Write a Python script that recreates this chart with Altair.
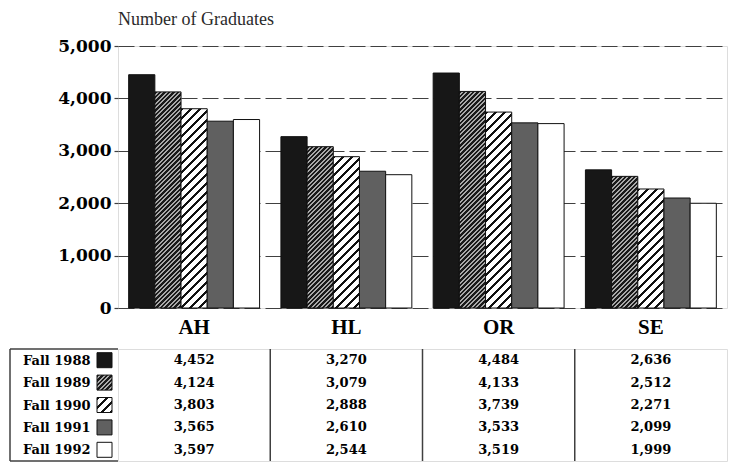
import altair as alt

# ---------------- data ----------------
categories = ["AH", "HL", "OR", "SE"]
series = ["Fall 1988", "Fall 1989", "Fall 1990", "Fall 1991", "Fall 1992"]
fall_1988 = [4452, 3270, 4484, 2636]
fall_1989 = [4124, 3079, 4133, 2512]
fall_1990 = [3803, 2888, 3739, 2271]
fall_1991 = [3565, 2610, 3533, 2099]
fall_1992 = [3597, 2544, 3519, 1999]
series_values = [fall_1988, fall_1989, fall_1990, fall_1991, fall_1992]
y_ticks = [0, 1000, 2000, 3000, 4000, 5000]
title_text = "Number of Graduates"

# ---------------- layout / style ----------------
PLOT_W = 609
PLOT_H = 262
Y_MAX = 5000
TABLE_H = 112
PAD_IN = 0.14
PAD_OUT = 0.07
LEFT_COL = 108
SWATCH = 15

# fill styles: solid colour, or diagonal hatch (dark, light, period px, dark fraction)
styles = {
    "Fall 1988": ("solid", "#171717"),
    "Fall 1989": ("hatch", "#1a1a1a", "#a9a9a9", 4.5, 0.55),
    "Fall 1990": ("hatch", "#111111", "#ffffff", 9.0, 0.33),
    "Fall 1991": ("solid", "#606060"),
    "Fall 1992": ("solid", "#ffffff"),
}


def hatch_gradient(w, h, period, frac, dark, light):
    """45-degree '/' stripes inside a w x h box via a bbox linear gradient."""
    denom = w * w + h * h
    dt = period * w / denom
    tmax = min(1.0, w * (w + h) / denom + dt)
    stops = []
    k = 0
    while True:
        t0 = k * dt
        if t0 > tmax:
            break
        t1 = min(1.0, t0 + frac * dt)
        t2 = min(1.0, (k + 1) * dt)
        stops += [
            {"offset": round(t0, 6), "color": dark},
            {"offset": round(t1, 6), "color": dark},
            {"offset": round(t1, 6), "color": light},
            {"offset": round(t2, 6), "color": light},
        ]
        k += 1
    return {"gradient": "linear", "x1": 0, "y1": 0, "x2": 1, "y2": h / w, "stops": stops}


def fill_for(s, w, h):
    st = styles[s]
    if st[0] == "solid":
        return st[1]
    return hatch_gradient(w, max(h, 1.0), st[3], st[4], st[1], st[2])


step = PLOT_W / (len(categories) - PAD_IN + 2 * PAD_OUT)
bar_w = step * (1 - PAD_IN) / len(series)

bar_records = []
table_records = []
for s, vals in zip(series, series_values):
    for c, v in zip(categories, vals):
        h = v / Y_MAX * PLOT_H
        bar_records.append({"category": c, "series": s, "value": v, "fill": fill_for(s, bar_w, h)})
        table_records.append({"category": c, "series": s, "value": v})
swatch_records = [{"series": s, "fill": fill_for(s, SWATCH, SWATCH)} for s in series]
separator_records = [{"category": c} for c in categories[1:]]

SERIF = "Liberation Serif"
SERIF_W = "DejaVu Serif"
LINE = "#404040"

# ---------------- bar chart ----------------
bars = alt.Chart(alt.Data(values=bar_records)).mark_bar(stroke="#111111", strokeWidth=1).encode(
    x=alt.X(
        "category:N",
        sort=categories,
        scale=alt.Scale(paddingInner=PAD_IN, paddingOuter=PAD_OUT),
        axis=alt.Axis(
            title=None, labelAngle=0, ticks=False, domain=False,
            labelFont=SERIF, labelFontSize=21, labelFontWeight="bold",
            labelColor="#000000", labelPadding=8,
        ),
    ),
    xOffset=alt.XOffset("series:N", sort=series, scale=alt.Scale(paddingInner=0, paddingOuter=0)),
    y=alt.Y(
        "value:Q",
        scale=alt.Scale(domain=[0, Y_MAX], nice=False),
        axis=alt.Axis(
            title=None, values=y_ticks, format=",d", domain=False,
            labelFont=SERIF_W, labelFontSize=17, labelFontWeight="bold",
            labelColor="#000000", labelPadding=3,
            tickSize=4, tickColor=LINE, tickWidth=1.2,
            grid=True, gridDash=[16, 5], gridColor=LINE, gridWidth=1.2,
        ),
    ),
    fill=alt.Fill("fill:N", scale=None),
).properties(
    width=PLOT_W,
    height=PLOT_H,
    title=alt.TitleParams(
        title_text, anchor="start", frame="group", font=SERIF, fontSize=18,
        fontWeight="normal", color="#2a2a2a", offset=8,
    ),
)

# ---------------- data table ----------------
y_t = alt.Y(
    "series:N",
    sort=series,
    scale=alt.Scale(paddingInner=0, paddingOuter=0.3),
    axis=alt.Axis(
        title=None, ticks=False, domain=False, grid=False,
        labelFont=SERIF_W, labelFontSize=13, labelFontWeight="bold",
        labelColor="#000000", labelPadding=28,
    ),
)
x_scale_t = alt.Scale(domain=categories, paddingInner=0, paddingOuter=0)
x_t = alt.X("category:N", sort=categories, scale=x_scale_t, axis=None)

cells = alt.Chart(alt.Data(values=table_records)).mark_text(
    font=SERIF_W, fontSize=13, fontWeight="bold", color="#000000"
).encode(x=x_t, y=y_t, text=alt.Text("value:Q", format=","))

separators = alt.Chart(alt.Data(values=separator_records)).mark_rule(
    color=LINE, strokeWidth=1.5
).encode(
    x=alt.X("category:N", sort=categories, scale=x_scale_t, axis=None, bandPosition=0),
    y=alt.value(0),
    y2=alt.value(TABLE_H),
)

swatches = alt.Chart(alt.Data(values=swatch_records)).mark_point(
    shape="square", size=SWATCH * SWATCH, filled=True, opacity=1,
    stroke="#111111", strokeWidth=1,
).encode(
    x=alt.value(-(SWATCH / 2 + 6)),
    y=y_t,
    fill=alt.Fill("fill:N", scale=None),
)

one = alt.Data(values=[{}])
rule_top = alt.Chart(one).mark_rule(color=LINE, strokeWidth=1.5).encode(
    x=alt.value(-LEFT_COL), x2=alt.value(0), y=alt.value(0)
)
rule_bottom = alt.Chart(one).mark_rule(color=LINE, strokeWidth=1.5).encode(
    x=alt.value(-LEFT_COL), x2=alt.value(0), y=alt.value(TABLE_H)
)
rule_left = alt.Chart(one).mark_rule(color=LINE, strokeWidth=1.5).encode(
    x=alt.value(-LEFT_COL), y=alt.value(0), y2=alt.value(TABLE_H)
)

table = alt.layer(cells, separators, swatches, rule_top, rule_bottom, rule_left).properties(
    width=PLOT_W, height=TABLE_H
)

chart = alt.vconcat(bars, table, spacing=9).properties(
    padding={"left": 0, "top": 2, "right": 0, "bottom": 0}
).configure_view(stroke=LINE, strokeWidth=1.5).configure(background="#ffffff")

chart.save("out.html", embed_options={"renderer": "svg", "actions": False})
